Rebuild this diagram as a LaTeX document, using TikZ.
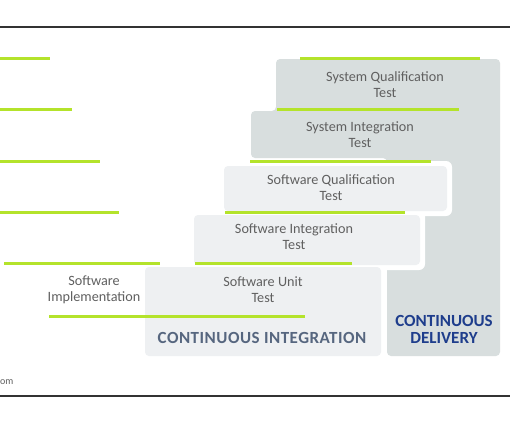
\documentclass[tikz,border=0pt]{standalone}
\usepackage{fontspec}
\setmainfont{Carlito}
\definecolor{darkbox}{HTML}{D8DEDE}
\definecolor{lightbox}{HTML}{EEF0F2}
\definecolor{lime}{HTML}{B4E32B}
\definecolor{txt}{HTML}{606060}
\definecolor{cilbl}{HTML}{56667F}
\definecolor{cdlbl}{HTML}{1E3D8C}
\definecolor{rulec}{HTML}{333333}
\begin{document}
\begin{tikzpicture}[x=1pt,y=-1pt,
  greenline/.style={draw=lime, line width=3pt},
  darkshape/.style={fill=darkbox, rounded corners=4pt},
  gapshape/.style={fill=white, rounded corners=6pt},
  lightshape/.style={fill=lightbox, rounded corners=4pt},
  rulestyle/.style={draw=rulec, line width=1.8pt},
  steplbl/.style={text=txt, align=center, inner sep=0pt,
    font=\fontsize{14.2}{16}\selectfont},
  biglbl/.style={align=center, inner sep=0pt,
    font=\fontsize{17}{17}\selectfont\bfseries}]
\useasboundingbox (0,0) rectangle (510,423);
\fill[white] (0,0) rectangle (510,423);
% rules
\coordinate (rtl) at (0,27); \coordinate (rtr) at (510,27);
\coordinate (rbl) at (0,396); \coordinate (rbr) at (510,396);
\draw[rulestyle] (rtl) -- (rtr);
\draw[rulestyle] (rbl) -- (rbr);
% dark (continuous delivery) shape
\fill[darkshape] (276,59) -- (500,59) -- (500,356) -- (387,356) -- (387,158)
  -- (251,158) -- (251,111) -- (276,111) -- cycle;
% white gaps around light boxes
\fill[gapshape] (219,161) rectangle (452,216);
\fill[gapshape] (189,210) rectangle (425,270);
\fill[gapshape] (140,262) rectangle (386,361);
% light (continuous integration) boxes
\fill[lightshape] (224,166) rectangle (447,211);
\fill[lightshape] (194,215) rectangle (420,265);
\fill[lightshape] (145,267) rectangle (381,356);
% green lines, left
\coordinate (l1a) at (0,58);   \coordinate (l1b) at (50,58);
\coordinate (l2a) at (0,109);  \coordinate (l2b) at (72,109);
\coordinate (l3a) at (0,161);  \coordinate (l3b) at (100,161);
\coordinate (l4a) at (0,212);  \coordinate (l4b) at (119,212);
\coordinate (l5a) at (4,263);  \coordinate (l5b) at (160,263);
\coordinate (l6a) at (49,316); \coordinate (l6b) at (305,316);
% green lines, right
\coordinate (r1a) at (300,58);  \coordinate (r1b) at (480,58);
\coordinate (r2a) at (277,109); \coordinate (r2b) at (459,109);
\coordinate (r3a) at (250,161); \coordinate (r3b) at (431,161);
\coordinate (r4a) at (225,212); \coordinate (r4b) at (405,212);
\coordinate (r5a) at (195,263); \coordinate (r5b) at (352,263);
\foreach \p in {l1,l2,l3,l4,l5,l6,r1,r2,r3,r4,r5}
  \draw[greenline] (\p a) -- (\p b);
% labels
\node[steplbl] (sqt) at (385,85) {System Qualification\\Test};
\node[steplbl] (sit) at (360,135) {System Integration\\Test};
\node[steplbl] (swqt) at (331,188) {Software Qualification\\Test};
\node[steplbl] (swit) at (294,237) {Software Integration\\Test};
\node[steplbl] (swut) at (263,290) {Software Unit\\Test};
\node[steplbl] (swimp) at (94,290) {Software\\Implementation};
\node[biglbl, text=cilbl] (ci) at (262,338) {\addfontfeature{LetterSpace=3}CONTINUOUS INTEGRATION};
\node[biglbl, text=cdlbl] (cd) at (444,329) {CONTINUOUS\\DELIVERY};
\node[anchor=west, inner sep=0pt, text=txt, font=\fontsize{10}{10}\selectfont] (src) at (0,382) {om};
\end{tikzpicture}
\end{document}
